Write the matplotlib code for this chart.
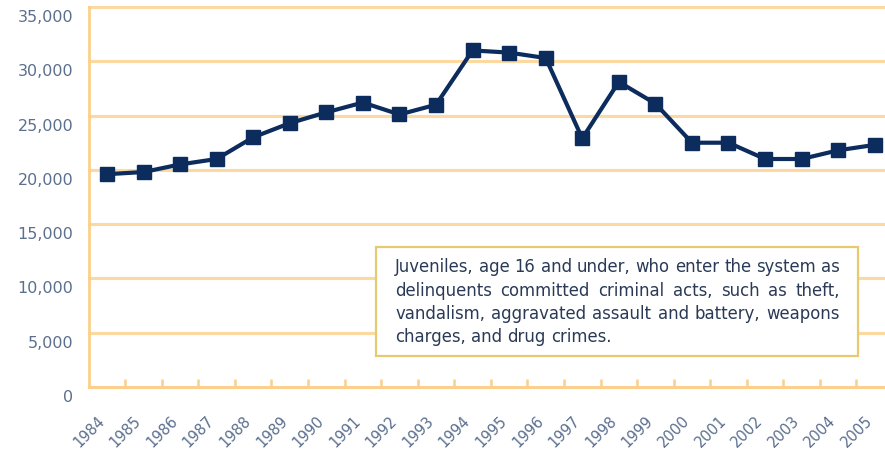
import matplotlib
matplotlib.use("Agg")
import matplotlib.pyplot as plt
from matplotlib.patches import Rectangle
from matplotlib.transforms import ScaledTranslation

years = ["1984", "1985", "1986", "1987", "1988", "1989", "1990", "1991", "1992", "1993", "1994",
         "1995", "1996", "1997", "1998", "1999", "2000", "2001", "2002", "2003", "2004", "2005"]
values = [19600, 19800, 20500, 21000, 23000, 24300, 25300, 26200, 25100, 26000, 31000,
          30800, 30300, 22900, 28100, 26100, 22500, 22500, 21000, 21000, 21800, 22300]
y_ticks = [0, 5000, 10000, 15000, 20000, 25000, 30000, 35000]
note_lines = [
    "Juveniles, age 16 and under, who enter the system as",
    "delinquents committed criminal acts, such as theft,",
    "vandalism, aggravated assault and battery, weapons",
    "charges, and drug crimes.",
]

W, H = 885, 456
DPI = 100
ORANGE = "#FDD9A2"
SPINE = "#FBCF8C"
NAVY = "#0B2C5C"
LABEL = "#5B6F8E"
TEXT = "#2A3A56"
GOLD = "#E6C970"

fig = plt.figure(figsize=(W / DPI, H / DPI), dpi=DPI)
ax = fig.add_axes([88.7 / W, 68 / H, (893 - 88.7) / W, 380 / H])

x = list(range(len(years)))
ax.plot(x, values, color=NAVY, lw=3.0, marker="s", markersize=10.5,
        markerfacecolor=NAVY, markeredgecolor=NAVY, zorder=3, clip_on=False)

ax.set_xlim(-0.5, len(years) - 0.5)
ax.set_ylim(0, 35000)
ax.set_yticks(y_ticks)
ax.set_yticklabels([f"{v:,}" for v in y_ticks])
ax.tick_params(axis="y", length=0, pad=11, labelsize=11.5, labelcolor=LABEL)
ax.yaxis.grid(True, color=ORANGE, lw=2.2)
for gl in ax.get_ygridlines():
    gl.set_clip_on(False)
ax.set_axisbelow(True)

ax.set_xticks(x)
ax.set_xticklabels(years, rotation=45, ha="right", va="top", rotation_mode="anchor")
ax.tick_params(axis="x", length=0, pad=18, labelsize=10.5, labelcolor=LABEL)
ax.set_xticks([i + 0.5 for i in range(len(years) - 1)], minor=True)
ax.tick_params(axis="x", which="minor", direction="in", length=5.5, width=1.8, color=SPINE)

for s in ["top", "right"]:
    ax.spines[s].set_visible(False)
for s in ["left", "bottom"]:
    ax.spines[s].set_color(SPINE)
    ax.spines[s].set_linewidth(2.0)

off = ScaledTranslation(0, -8 / DPI, fig.dpi_scale_trans)
for lab in ax.get_yticklabels():
    lab.set_transform(lab.get_transform() + off)
off2 = ScaledTranslation(-10 / DPI, 0, fig.dpi_scale_trans)
for lab in ax.get_xticklabels():
    lab.set_transform(lab.get_transform() + off2)

# annotation box
bx0, by0, bx1, by1 = 376, 248, 858, 357
fig.add_artist(Rectangle((bx0 / W, 1 - by1 / H), (bx1 - bx0) / W, (by1 - by0) / H,
                         transform=fig.transFigure, facecolor="white", edgecolor=GOLD,
                         lw=1.6, zorder=5))

fig.canvas.draw()
renderer = fig.canvas.get_renderer()
FONT = dict(family="DejaVu Sans", fontsize=11.9, color=TEXT)
L, R = 395, 840
baselines = [272, 295.5, 319, 342.5]


def width_of(s):
    t = fig.text(0, 0, s, **FONT)
    w = t.get_window_extent(renderer).width
    t.remove()
    return w


space_w = width_of("a a") - width_of("aa")
for i, line in enumerate(note_lines):
    words = line.split(" ")
    widths = [width_of(w) for w in words]
    if i < len(note_lines) - 1 and len(words) > 1:
        gap = (R - L - sum(widths)) / (len(words) - 1)
    else:
        gap = space_w
    cx = L
    for w, wd in zip(words, widths):
        fig.text(cx / W, 1 - baselines[i] / H, w, ha="left", va="baseline",
                 zorder=6, **FONT)
        cx += wd + gap

fig.savefig("out.png", dpi=DPI)
